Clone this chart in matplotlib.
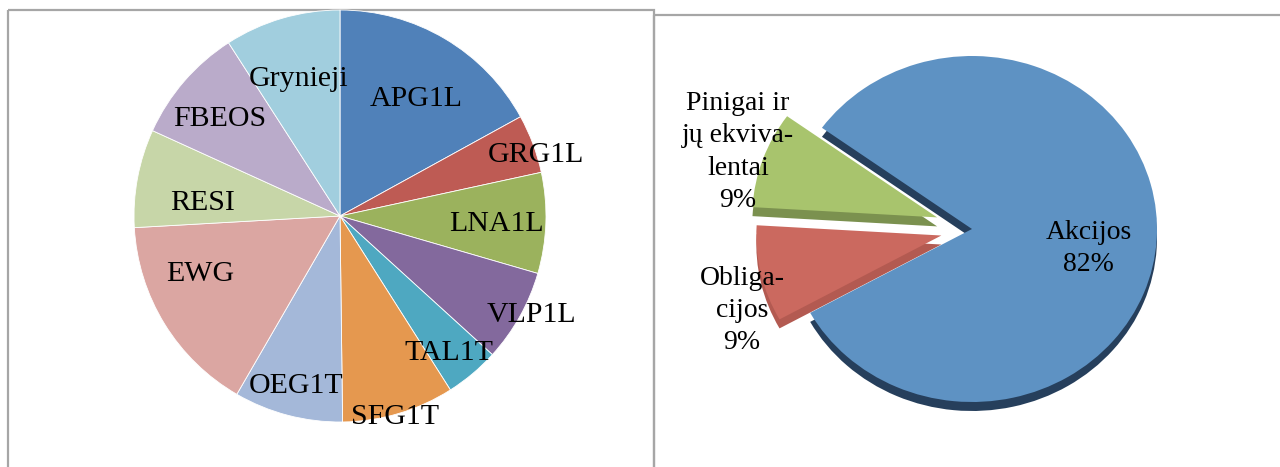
import numpy as np
import matplotlib
matplotlib.use("Agg")
import matplotlib.pyplot as plt
from matplotlib.patches import Rectangle

# left pie: portfolio by security (share, %)
securities = ["APG1L", "GRG1L", "LNA1L", "VLP1L", "TAL1T", "SFG1T",
              "OEG1T", "EWG", "RESI", "FBEOS", "Grynieji"]
security_share = [17.0, 4.6, 7.9, 7.25, 4.25, 8.8, 8.55, 15.75, 7.7, 9.1, 9.1]
security_colors = ["#5081B9", "#BE5B54", "#9BB25D", "#83699D", "#4EA8C1",
                   "#E5984F", "#A4B8D9", "#DBA6A2", "#C7D6A8", "#BAABCA",
                   "#A1CEDE"]

# right pie: asset classes
assets = ["Akcijos", "Pinigai ir\njų ekviva-\nlentai", "Obliga-\ncijos"]
asset_pct = [82, 9, 9]
asset_colors = ["#5E92C3", "#A8C46D", "#CB695F"]
asset_side = ["#263F5C", "#7B914F", "#B35A51"]

W, H = 1280, 467
plt.rcParams["font.family"] = ["Liberation Serif", "DejaVu Serif"]
fig = plt.figure(figsize=(W / 100, H / 100), dpi=100)

# panel frames
frame = fig.add_axes([0, 0, 1, 1])
frame.set_xlim(0, W)
frame.set_ylim(H, 0)
frame.axis("off")
frame.add_patch(Rectangle((7.5, 10), 646.5, 470, fill=False,
                          edgecolor="#A6A6A6", linewidth=1.6))
frame.add_patch(Rectangle((654, 15), 640, 470, fill=False,
                          edgecolor="#A6A6A6", linewidth=1.6))


def px_axes(cx, cy, rx, ry, x0, x1, y0, y1):
    # axes spanning pixel box, data units = radius
    ax = fig.add_axes([x0 / W, (H - y1) / H, (x1 - x0) / W, (y1 - y0) / H])
    return ax, ((x0 - cx) / rx, (x1 - cx) / rx), ((cy - y1) / ry, (cy - y0) / ry)


# ---- left pie ----
ax1, xl, yl = px_axes(340, 216, 206, 206, 40, 640, 0, 467)
wedges, _ = ax1.pie(security_share, colors=security_colors, startangle=90,
                    counterclock=False,
                    wedgeprops=dict(edgecolor="white", linewidth=0.6))
ax1.set_aspect("auto")
ax1.set_xlim(*xl)
ax1.set_ylim(*yl)

label_r = [0.69, 1.0, 0.76, 1.04, 0.84, 1.0, 0.84, 0.73, 0.67, 0.76, 0.71]
label_shift = [-2, -2.5, 0, 2.5, -1, -1, 0, -10, 4, 1, 0]
for w, name, r, s in zip(wedges, securities, label_r, label_shift):
    a = np.deg2rad((w.theta1 + w.theta2) / 2 + s)
    ax1.text(r * np.cos(a), r * np.sin(a), name, ha="center",
             va="center_baseline", fontsize=21.5)

# ---- right pie (3D look) ----
rx, ry, depth = 185, 173, 9
ax2, xl, yl = px_axes(972, 229, rx, ry, 660, 1275, 20, 460)
explode = [0, 0.2, 0.17]
ax2.pie(asset_pct, colors=asset_side, startangle=-151, explode=explode,
        center=(0, -depth / ry), wedgeprops=dict(linewidth=0))
wedges2, _ = ax2.pie(asset_pct, colors=asset_colors, startangle=-151,
                     explode=explode, wedgeprops=dict(linewidth=0))
ax2.set_aspect("auto")
ax2.set_xlim(*xl)
ax2.set_ylim(*yl)

asset_label_pos = [(0.63, -0.11), (-1.265, 0.445), (-1.243, -0.47)]
for name, pct, (x, y) in zip(assets, asset_pct, asset_label_pos):
    ax2.text(x, y, f"{name}\n{pct}%", ha="center", va="center",
             multialignment="center", fontsize=20, linespacing=1.37)

fig.savefig("out.png", dpi=100)
